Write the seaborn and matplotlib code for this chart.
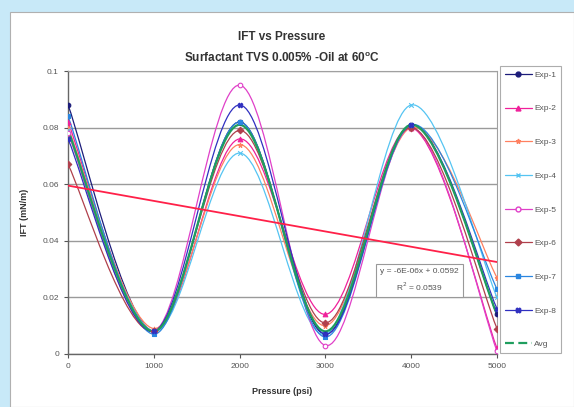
import numpy as np
import matplotlib
matplotlib.use("Agg")
import matplotlib.pyplot as plt
import seaborn as sns
from matplotlib.path import Path
from matplotlib.patches import PathPatch, Rectangle
from matplotlib.lines import Line2D

# ---------- data ----------
pressure = [0, 1000, 2000, 3000, 4000, 5000]
exp1 = [0.088, 0.008, 0.082, 0.007, 0.081, 0.014]
exp2 = [0.082, 0.008, 0.076, 0.014, 0.080, 0.002]
exp3 = [0.080, 0.009, 0.074, 0.010, 0.080, 0.027]
exp4 = [0.079, 0.008, 0.071, 0.007, 0.088, 0.020]
exp5 = [0.078, 0.008, 0.095, 0.003, 0.080, 0.001]
exp6 = [0.067, 0.008, 0.079, 0.011, 0.080, 0.009]
exp7 = [0.084, 0.007, 0.082, 0.006, 0.081, 0.023]
exp8 = [0.076, 0.008, 0.088, 0.007, 0.081, 0.016]
avg = [0.079, 0.008, 0.081, 0.008, 0.081, 0.014]

series_names = ["Exp-1", "Exp-2", "Exp-3", "Exp-4", "Exp-5", "Exp-6", "Exp-7", "Exp-8", "Avg"]
series_values = [exp1, exp2, exp3, exp4, exp5, exp6, exp7, exp8, avg]

# linear trendline of Avg (as shown on chart)
trend_slope = -5.4e-06
trend_intercept = 0.0595
trend_label = "y = -6E-06x + 0.0592\nR$^2$ = 0.0539"

# ---------- styles ----------
colors = ["#1c1c7a", "#f0209a", "#ff8060", "#55c4f2", "#e040c8",
          "#b0404c", "#2a86e0", "#3030c0", "#1f9e5e"]
markers = ["o", "^", "*", "x", "o", "D", "s", "X", None]
marker_face = ["#1c1c7a", "#f0209a", "#ff8060", "#55c4f2", "white",
               "#b0404c", "#2a86e0", "#3030c0", None]

sns.set_style("white")
plt.rcParams['font.family'] = ['Liberation Sans', 'DejaVu Sans']

fig = plt.figure(figsize=(5.74, 4.07), dpi=100)
fig.patch.set_facecolor("#c8e9f8")
fig.patches.append(Rectangle((10 / 574, 0), 1 - 10 / 574, 1 - 12 / 407,
                             transform=fig.transFigure, facecolor="white",
                             edgecolor="#b0b0b0", linewidth=0.8, zorder=-10))

ax = fig.add_axes([68 / 574, 1 - 354 / 407, (497 - 68) / 574, (354 - 71) / 407])
ax.set_facecolor("white")


def smooth_path(xs, ys):
    # Excel-like smoothed line: cubic Bezier through the points
    pts = np.column_stack([xs, ys]).astype(float)
    n = len(pts)
    verts = [pts[0]]
    codes = [Path.MOVETO]
    for i in range(n - 1):
        p0 = pts[i - 1] if i > 0 else pts[i]
        p1 = pts[i]
        p2 = pts[i + 1]
        p3 = pts[i + 2] if i + 2 < n else pts[i + 1]
        c1 = p1 + (p2 - p0) / 6.0
        c2 = p2 - (p3 - p1) / 6.0
        verts += [c1, c2, p2]
        codes += [Path.CURVE4] * 3
    return Path(verts, codes)


handles = []
for name, vals, col, mk, mf in zip(series_names, series_values, colors, markers, marker_face):
    lw = 1.6 if name == "Avg" else 0.9
    ax.add_patch(PathPatch(smooth_path(pressure, vals), facecolor="none",
                           edgecolor=col, linewidth=lw, zorder=3))
    if mk is not None:
        sns.scatterplot(x=pressure, y=vals, ax=ax, marker=mk, color=mf,
                        edgecolor=col, linewidth=0.8, s=11, zorder=4,
                        legend=False)
    if name == "Avg":
        handles.append(Line2D([], [], color=col, linewidth=1.6,
                              linestyle=(0, (4, 2)), label=name))
    else:
        handles.append(Line2D([], [], color=col, linewidth=0.9, marker=mk,
                              markerfacecolor=mf, markeredgecolor=col,
                              markersize=3.5, label=name))

# trendline
tx = np.array([pressure[0], pressure[-1]])
sns.lineplot(x=tx, y=trend_slope * tx + trend_intercept, ax=ax,
             color="#ff2048", linewidth=1.3, zorder=5)

ax.text(4100, 0.026, trend_label, ha="center", va="center", fontsize=6,
        color="#555555", linespacing=1.5, zorder=6,
        bbox=dict(boxstyle="square,pad=0.5", facecolor="white",
                  edgecolor="#999999", linewidth=0.8))

# axes cosmetics
ax.set_xlim(0, 5000)
ax.set_ylim(0, 0.1)
ax.set_xticks([0, 1000, 2000, 3000, 4000, 5000])
ax.set_yticks([0, 0.02, 0.04, 0.06, 0.08, 0.1])
ax.set_yticklabels(["0", "0.02", "0.04", "0.06", "0.08", "0.1"])
ax.tick_params(axis="both", labelsize=6, colors="#555555", length=3,
               width=0.8, direction="out", left=True, bottom=True)
ax.yaxis.grid(True, color="#9a9a9a", linewidth=1.0)
ax.xaxis.grid(False)
for side in ["left", "bottom"]:
    ax.spines[side].set_color("#666666")
    ax.spines[side].set_linewidth(1.0)
for side in ["top", "right"]:
    ax.spines[side].set_color("#a0a0a0")
    ax.spines[side].set_linewidth(0.8)

ax.set_xlabel("Pressure (psi)", fontsize=6.5, fontweight="bold", color="#333333", labelpad=12)
ax.set_ylabel("IFT (mN/m)", fontsize=6.5, fontweight="bold", color="#333333", labelpad=10)

fig.text(282 / 574, 1 - 37 / 407, "IFT vs Pressure", ha="center", va="center",
         fontsize=8.5, fontweight="bold", color="#333333")
fig.text(282 / 574, 1 - 58 / 407, r"Surfactant TVS 0.005% -Oil at 60$^\mathregular{o}$C",
         ha="center", va="center", fontsize=8.5, fontweight="bold", color="#333333")

leg = ax.legend(handles=handles, loc="upper left", bbox_to_anchor=(500 / 574, 1 - 66 / 407),
                bbox_transform=fig.transFigure, fontsize=6, labelspacing=3.1,
                handlelength=3.2, handletextpad=0.3, borderpad=0.6,
                frameon=True, fancybox=False, borderaxespad=0)
leg.get_frame().set_edgecolor("#999999")
leg.get_frame().set_linewidth(0.8)
for t in leg.get_texts():
    t.set_color("#555555")

fig.savefig("out.png", dpi=100, facecolor=fig.get_facecolor())
